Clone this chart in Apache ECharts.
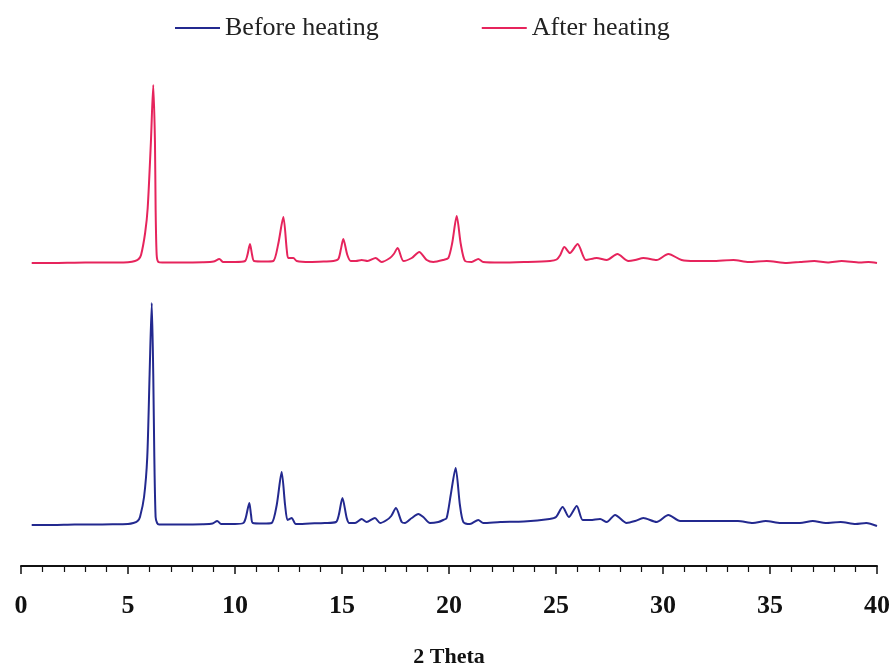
<!DOCTYPE html>
<html>
<head>
<meta charset="utf-8">
<script src="https://cdn.jsdelivr.net/npm/echarts@6/dist/echarts.min.js"></script>
<style>html,body{margin:0;padding:0;background:#fff}#c{width:891px;height:666px}</style>
</head>
<body>
<div id="c"></div>
<script>
// X-ray diffraction patterns: [2theta, intensity above own baseline]
const seriesNames = ['Before heating', 'After heating'];
const xTicks = [0, 5, 10, 15, 20, 25, 30, 35, 40];
const beforeOffset = 41;
const afterOffset = 303;
const beforeData = [[0.5,0],[1.5,0],[2.5,0.5],[3.5,0.5],[4.5,0.8],[5.0,1],[5.25,2],[5.45,4],[5.56,8],[5.75,28],[5.9,68],[6.01,151],[6.11,222],[6.18,151],[6.23,68],[6.29,8],[6.36,2],[6.45,0.5],[7.5,0.5],[8.5,0.8],[8.95,1.5],[9.17,4],[9.35,1],[10.0,1],[10.39,2],[10.5,7],[10.67,22],[10.75,10],[10.83,2],[11.3,1.5],[11.71,2],[11.95,20],[12.18,53],[12.34,20],[12.45,5],[12.55,6],[12.65,7],[12.84,1],[13.5,1.5],[14.2,2],[14.72,3],[14.85,10],[15.02,27],[15.22,7],[15.34,2],[15.61,2],[15.92,6],[16.15,3],[16.54,7],[16.78,2],[17.09,5],[17.3,9],[17.52,17],[17.79,3],[17.94,2],[18.26,7],[18.57,11],[18.8,8],[19.11,2],[19.5,3],[19.73,5],[19.89,7],[20.08,30],[20.31,57],[20.51,20],[20.67,3],[20.98,1],[21.37,5],[21.6,2],[22.4,3],[23.5,3.5],[24.7,6],[25.0,8],[25.31,18],[25.6,8],[25.97,19],[26.25,5],[26.6,5],[27.06,6],[27.37,3],[27.76,10],[28.3,2],[28.7,4],[29.08,7],[29.7,3],[30.25,10],[30.8,4],[31.5,4],[32.5,4],[33.5,4],[34.2,2],[34.8,4],[35.5,2],[36.4,2],[37.0,4],[37.6,2],[38.3,3],[39,1],[39.5,2],[40,-1]];
const afterData = [[0.5,0],[1.5,0],[2.5,0.3],[3.5,0.5],[4.5,0.5],[5.0,0.8],[5.33,2],[5.5,4],[5.61,8],[5.8,30],[5.92,55],[6.07,121],[6.18,178],[6.26,121],[6.29,55],[6.34,8],[6.42,1],[6.6,0.5],[7.5,0.5],[8.5,0.8],[9.0,1.5],[9.27,4],[9.45,1],[10.0,1],[10.47,2],[10.58,8],[10.7,19],[10.8,8],[10.89,2],[11.4,1.5],[11.79,2],[12.02,19],[12.26,46],[12.42,13],[12.49,5],[12.73,5],[12.88,2],[13.5,1],[14.2,1.5],[14.6,2],[14.83,4],[14.95,14],[15.06,24],[15.25,8],[15.41,2],[15.65,2],[15.92,3],[16.2,2],[16.57,5],[16.85,1],[17.24,5],[17.42,9],[17.6,15],[17.87,2],[18.26,5],[18.61,11],[18.96,3],[19.27,1],[19.73,3],[19.97,5],[20.15,20],[20.36,47],[20.55,19],[20.75,2],[21.06,1],[21.37,4],[21.6,1],[22.4,0.5],[23.5,1],[24.72,2],[25.03,3.5],[25.2,8],[25.39,16],[25.65,10],[26.01,19],[26.4,3],[26.9,5],[27.37,3],[27.87,9],[28.38,2],[28.7,3],[29.08,5],[29.7,3],[30.25,9],[30.87,3],[31.5,2],[32.3,2],[33.29,3],[34.0,1],[34.85,2],[35.78,0],[36.4,1],[37.07,2],[37.7,0.5],[38.35,2],[39.2,0.5],[39.6,1],[40,0]];

const shift = (arr, off) => arr.map(p => [p[0], p[1] + off]);
const serif = '"Liberation Serif","DejaVu Serif",serif';
const chart = echarts.init(document.getElementById('c'));
chart.setOption({
  animation: false,
  backgroundColor: '#fff',
  legend: {
    data: seriesNames,
    left: 170, top: 10,
    icon: 'rect',
    itemWidth: 45, itemHeight: 2, itemGap: 103,
    textStyle: { fontFamily: serif, fontSize: 26, color: '#222' }
  },
  grid: { left: 21, right: 14, top: 66, bottom: 100, outerBoundsMode: 'none', containLabel: false },
  xAxis: {
    type: 'value', min: 0, max: 40, interval: 5,
    name: '2 Theta', nameLocation: 'middle', nameGap: 80,
    nameTextStyle: { fontFamily: serif, fontSize: 22, fontWeight: 'bold', color: '#111' },
    axisLine: { lineStyle: { color: '#111', width: 2 } },
    axisTick: { show: true, length: 8, lineStyle: { color: '#111', width: 1.5 } },
    minorTick: { show: true, splitNumber: 5, length: 6, lineStyle: { color: '#111', width: 1.2 } },
    splitLine: { show: false },
    axisLabel: { fontFamily: serif, fontSize: 26, fontWeight: 'bold', color: '#111', margin: 27,
      formatter: v => xTicks.includes(v) ? String(v) : '' }
  },
  yAxis: { type: 'value', min: 0, max: 500, show: false },
  series: [
    { name: seriesNames[0], type: 'line', data: shift(beforeData, beforeOffset), symbol: 'none',
      smooth: 0.25, lineStyle: { color: '#23298f', width: 2 }, itemStyle: { color: '#23298f' } },
    { name: seriesNames[1], type: 'line', data: shift(afterData, afterOffset), symbol: 'none',
      smooth: 0.25, lineStyle: { color: '#e6245c', width: 2 }, itemStyle: { color: '#e6245c' } }
  ]
});
</script>
</body>
</html>
